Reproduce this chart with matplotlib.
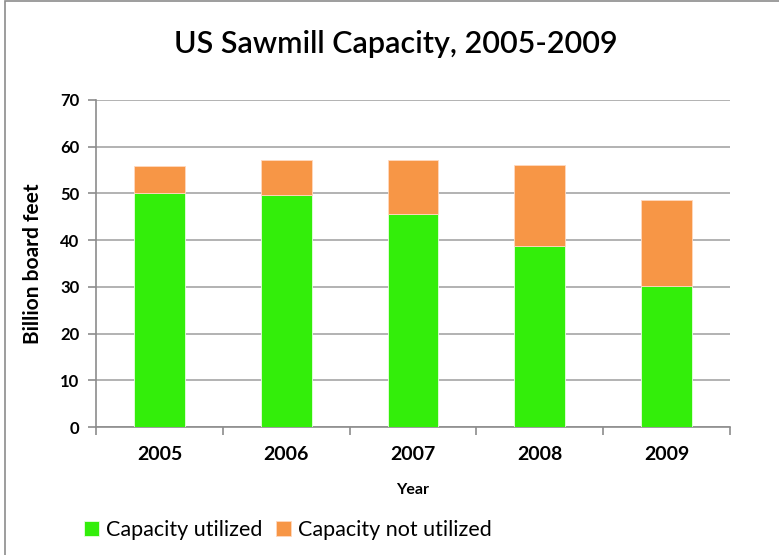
import matplotlib.pyplot as plt
import numpy as np
from matplotlib.patches import Rectangle

years = ["2005", "2006", "2007", "2008", "2009"]
utilized = [50.0, 49.6, 45.7, 38.8, 30.2]
total_capacity = [55.8, 57.2, 57.2, 56.1, 48.6]
not_utilized = [t - u for t, u in zip(total_capacity, utilized)]

plt.rcParams["font.family"] = ["Lato", "DejaVu Sans"]

fig = plt.figure(figsize=(7.79, 5.55), dpi=100)
ax = fig.add_axes([96 / 779, 1 - 427 / 555, (730 - 96) / 779, (427 - 100) / 555])

# outer frame (left and top edges visible)
fig.patches.append(Rectangle((5 / 779, -0.1), 1.2, 1 - 1.5 / 555 + 0.1,
                             transform=fig.transFigure, fill=False,
                             edgecolor="#8c8c8c", linewidth=1.2))

x = np.arange(len(years))
ax.bar(x, utilized, width=0.4, color="#33ee0a", edgecolor="#e8ffe0",
       linewidth=0.6, label="Capacity utilized", zorder=3)
ax.bar(x, not_utilized, width=0.4, bottom=utilized, color="#f79646",
       edgecolor="#ffd9bf", linewidth=0.6, label="Capacity not utilized", zorder=3)

ax.set_xlim(-0.5, len(years) - 0.5)
ax.set_ylim(0, 70)
ax.set_yticks(range(0, 71, 10))
ax.yaxis.grid(True, color="#a6a6a6", linewidth=1.2, zorder=0)

ax.set_xticks(np.arange(-0.5, len(years), 1.0))
ax.set_xticklabels([])
ax.set_xticks(x, minor=True)
ax.set_xticklabels(years, minor=True, fontsize=14, fontweight="bold")
ax.tick_params(axis="x", which="minor", length=0, pad=14)
ax.tick_params(axis="x", which="major", length=6, color="#8c8c8c", width=1.2)
ax.tick_params(axis="y", length=6, color="#8c8c8c", width=1.2, labelsize=12, pad=6)
for lab in ax.get_yticklabels():
    lab.set_fontweight("bold")

for side in ["top", "right"]:
    ax.spines[side].set_visible(False)
for side in ["left", "bottom"]:
    ax.spines[side].set_color("#8c8c8c")
    ax.spines[side].set_linewidth(1.2)

ax.set_xlabel("Year", fontsize=11.5, fontweight="bold", labelpad=14)
ax.set_ylabel("Billion board feet", fontsize=15, fontweight="bold", labelpad=12)
fig.text(396 / 779, 1 - 44 / 555, "US Sawmill Capacity, 2005-2009",
         ha="center", va="center", fontsize=22, fontweight="semibold")

fig.legend(loc="center left", bbox_to_anchor=(75 / 779, 1 - 530 / 555), ncol=2,
           frameon=False, borderaxespad=0, prop={"size": 15.5},
           handlelength=0.7, handleheight=0.75, handletextpad=0.35, columnspacing=0.6)

fig.savefig("out.png", dpi=100)
